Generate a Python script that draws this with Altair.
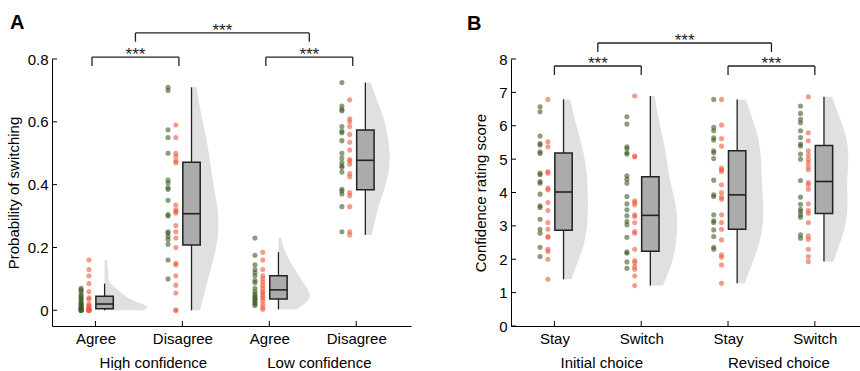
import altair as alt
import pandas as pd

# ---------------- data ----------------
# Panel A: probability of switching
a_categories = ["Agree", "Disagree", "Agree", "Disagree"]
a_groups = ["High confidence", "Low confidence"]
a_high_agree_green = [0.07, 0.065, 0.06, 0.05, 0.045, 0.04, 0.035, 0.03, 0.025, 0.02,
                      0.02, 0.015, 0.01, 0.01, 0.005, 0.005, 0.0, 0.0, 0.0, 0.0]
a_high_agree_red = [0.16, 0.13, 0.11, 0.085, 0.06, 0.04, 0.035, 0.02, 0.015, 0.01,
                    0.005, 0.005, 0.0, 0.0, 0.0, 0.0, 0.0]
a_high_disagree_green = [0.71, 0.70, 0.575, 0.55, 0.50, 0.415, 0.405, 0.39, 0.385, 0.35,
                         0.305, 0.30, 0.25, 0.245, 0.235, 0.225, 0.21, 0.16, 0.10]
a_high_disagree_red = [0.59, 0.55, 0.50, 0.49, 0.475, 0.47, 0.335, 0.32, 0.315, 0.31,
                       0.27, 0.25, 0.23, 0.20, 0.15, 0.145, 0.11, 0.08, 0.055, 0.0, 0.0]
a_low_agree_green = [0.23, 0.175, 0.145, 0.13, 0.12, 0.11, 0.095, 0.088, 0.07, 0.06,
                     0.052, 0.045, 0.04, 0.035, 0.03, 0.025, 0.02, 0.015]
a_low_agree_red = [0.185, 0.16, 0.13, 0.11, 0.10, 0.09, 0.08, 0.07, 0.06, 0.055,
                   0.045, 0.04, 0.03, 0.02, 0.01, 0.003]
a_low_disagree_green = [0.725, 0.65, 0.64, 0.635, 0.585, 0.57, 0.565, 0.54, 0.50, 0.485,
                        0.47, 0.46, 0.455, 0.44, 0.385, 0.38, 0.37, 0.33, 0.25]
a_low_disagree_red = [0.67, 0.61, 0.60, 0.585, 0.56, 0.535, 0.51, 0.48, 0.475, 0.465,
                      0.435, 0.425, 0.375, 0.365, 0.33, 0.25, 0.24]

# Panel B: confidence rating score
b_categories = ["Stay", "Switch", "Stay", "Switch"]
b_groups = ["Initial choice", "Revised choice"]
b_init_stay_green = [6.57, 6.42, 5.69, 5.47, 5.42, 5.22, 5.17, 4.58, 4.53, 4.33,
                     4.28, 3.95, 3.60, 3.55, 3.20, 2.90, 2.78, 2.36, 2.08]
b_init_stay_red = [6.79, 5.52, 5.37, 4.63, 4.58, 4.13, 4.08, 3.70, 3.46, 3.10,
                   2.90, 2.68, 2.66, 2.30, 2.23, 2.00, 1.40]
b_init_switch_green = [6.27, 6.05, 5.37, 5.32, 5.19, 5.15, 4.50, 4.40, 4.28, 3.88,
                       3.66, 3.48, 3.30, 3.13, 3.03, 2.66, 2.22, 2.18, 1.92, 1.73]
b_init_switch_red = [6.89, 5.09, 5.07, 3.75, 3.70, 3.63, 3.33, 3.28, 3.10, 2.83,
                     2.78, 2.30, 1.96, 1.90, 1.78, 1.70, 1.50, 1.21]
b_rev_stay_green = [6.79, 5.95, 5.85, 5.64, 5.57, 5.25, 5.19, 5.02, 4.37, 3.93,
                    3.88, 3.33, 3.15, 3.10, 2.88, 2.68, 2.36, 2.30]
b_rev_stay_red = [6.79, 6.02, 5.62, 5.39, 4.73, 4.68, 4.63, 4.23, 4.00, 3.86,
                  3.80, 3.33, 3.10, 2.90, 2.58, 2.13, 2.06, 1.83, 1.28]
b_rev_switch_green = [6.59, 6.37, 6.19, 6.09, 5.85, 5.65, 5.45, 5.39, 5.15, 5.00,
                      4.36, 3.86, 3.65, 3.50, 3.43, 3.33, 3.26, 2.73, 2.63]
b_rev_switch_red = [6.87, 5.79, 5.55, 5.25, 5.12, 5.00, 4.90, 4.78, 4.68, 4.30,
                    4.23, 4.10, 3.66, 3.46, 3.38, 3.10, 2.70, 2.60, 2.30, 2.08, 1.93]

significance = "***"

# ---------------- style ----------------
FONT = "Liberation Sans"
GREEN = "#3f5a25"
RED = "#ec5a40"
VIOLIN = "#e0e0e0"
BOXFILL = "#ababab"
INK = "#222222"
OFF_G, OFF_R = -0.165, -0.075          # dot columns relative to category
BOX_L, BOX_C, BOX_R = 0.005, 0.105, 0.205


def make_panel(greens, reds, cats, groups, group_pos, xdom, ydom, yticks, ytitle,
               letter, vwidths, brk_off, brk_low, brk_top, drop, width, height,
               title_pad, letter_dx, letter_offset):
    rows = []
    for i, (gl, rl) in enumerate(zip(greens, reds)):
        pos = i + 1
        rows += [dict(g=pos, c="green", v=v, x=pos + OFF_G) for v in gl]
        rows += [dict(g=pos, c="red", v=v, x=pos + OFF_R) for v in rl]
    df = pd.DataFrame(rows)

    xs = alt.Scale(domain=xdom, nice=False, zero=False)
    ys = alt.Scale(domain=ydom, nice=False, zero=False)
    px_x = (xdom[1] - xdom[0]) / width
    px_y = (ydom[1] - ydom[0]) / height

    vals_x = [1, 2, 3, 4] + list(group_pos)
    parts = [f"datum.value == {i + 1} ? '{c}'" for i, c in enumerate(cats)]
    parts += [f"datum.value == {p} ? ['', '{g}']" for p, g in zip(group_pos, groups)]
    lab_expr = " : ".join(parts) + " : ''"
    xaxis = alt.Axis(values=vals_x, labelExpr=lab_expr, ticks=False, tickSize=0, grid=False,
                     title=None, labelFontSize=15, labelFont=FONT, labelColor="black",
                     labelPadding=5, labelLineHeight=24, labelOverlap=False, labelFlush=False,
                     labelBound=False, domainColor="black", domainWidth=1)
    yaxis = alt.Axis(values=yticks, format="~g", ticks=False, tickSize=0, grid=False,
                     title=ytitle, titleFont=FONT, titleFontSize=15, titleFontWeight="normal",
                     titleColor="black", titlePadding=title_pad, labelFontSize=15,
                     labelFont=FONT, labelColor="black", labelPadding=4,
                     domainColor="black", domainWidth=1, labelFlush=False)

    def X(f):
        return alt.X(f, scale=xs, axis=xaxis)

    def Y(f):
        return alt.Y(f, scale=ys, axis=yaxis)

    layers = []
    # half violins
    for i, (gl, rl) in enumerate(zip(greens, reds)):
        pos = i + 1
        vals = gl + rl
        v = (alt.Chart(df)
             .transform_filter(f"datum.g == {pos}")
             .transform_density("v", as_=["v", "dens"], extent=[min(vals), max(vals)], steps=150)
             .transform_joinaggregate(mx="max(dens)")
             .transform_calculate(xb=f"{pos + BOX_C}",
                                  xr=f"{pos + BOX_C} + datum.dens / datum.mx * {vwidths[i]}")
             .mark_area(orient="horizontal", color=VIOLIN)
             .encode(y=Y("v:Q"), x=X("xr:Q"), x2="xb:Q"))
        layers.append(v)

    # box plots (1.5 IQR whiskers)
    bb = (alt.Chart(df)
          .transform_joinaggregate(q1="q1(v)", q3="q3(v)", med="median(v)", groupby=["g"])
          .transform_calculate(iqr="datum.q3 - datum.q1")
          .transform_filter("datum.v >= datum.q1 - 1.5 * datum.iqr && datum.v <= datum.q3 + 1.5 * datum.iqr")
          .transform_aggregate(lo="min(v)", hi="max(v)", bq1="min(q1)", bq3="min(q3)",
                               bmed="min(med)", groupby=["g"])
          .transform_calculate(xc=f"datum.g + {BOX_C}", xl=f"datum.g + {BOX_L}",
                               xr=f"datum.g + {BOX_R}"))
    layers.append(bb.mark_rule(color=INK, strokeWidth=1.3).encode(
        x=X("xc:Q"), y=Y("lo:Q"), y2="hi:Q"))
    layers.append(bb.mark_rect(fill=BOXFILL, stroke=INK, strokeWidth=1.5).encode(
        x=X("xl:Q"), x2="xr:Q", y=Y("bq1:Q"), y2="bq3:Q"))
    layers.append(bb.mark_rule(color=INK, strokeWidth=1.6).encode(
        x=X("xl:Q"), x2="xr:Q", y=Y("bmed:Q")))

    # dots
    layers.append(alt.Chart(df).mark_circle(size=26, opacity=0.6).encode(
        x=X("x:Q"), y=Y("v:Q"),
        color=alt.Color("c:N", scale=alt.Scale(domain=["green", "red"], range=[GREEN, RED]),
                        legend=None)))

    # inward tick marks
    trows = [dict(x1=xdom[0], x2=xdom[0] + 5 * px_x, y1=t, y2=t) for t in yticks]
    trows += [dict(x1=p, x2=p, y1=ydom[0], y2=ydom[0] + 5 * px_y) for p in [1, 2, 3, 4]]
    layers.append(alt.Chart(pd.DataFrame(trows)).mark_rule(color="black", strokeWidth=1).encode(
        x=X("x1:Q"), x2="x2:Q", y=Y("y1:Q"), y2="y2:Q"))

    # significance brackets
    brackets = [(1 + brk_off, 2 + brk_off, brk_low), (3 + brk_off, 4 + brk_off, brk_low),
                (1.5 + brk_off, 3.5 + brk_off, brk_top)]
    seg, txt = [], []
    for a, b, lvl in brackets:
        seg.append(dict(x1=a, x2=b, y1=lvl, y2=lvl))
        seg.append(dict(x1=a, x2=a, y1=lvl, y2=lvl - drop))
        seg.append(dict(x1=b, x2=b, y1=lvl, y2=lvl - drop))
        txt.append(dict(x=(a + b) / 2, y=lvl, t=significance))
    layers.append(alt.Chart(pd.DataFrame(seg)).mark_rule(color=INK, strokeWidth=1.3).encode(
        x=X("x1:Q"), x2="x2:Q", y=Y("y1:Q"), y2="y2:Q"))
    layers.append(alt.Chart(pd.DataFrame(txt)).mark_text(
        font=FONT, fontSize=17, color=INK, align="center", baseline="alphabetic", dy=3).encode(
        x=X("x:Q"), y=Y("y:Q"), text="t:N"))

    return alt.layer(*layers).properties(
        width=width, height=height,
        title=alt.TitleParams(letter, anchor="start", frame="group", dx=letter_dx,
                              offset=letter_offset, fontSize=20, fontWeight="bold",
                              font=FONT, color="black", baseline="alphabetic"))


panel_a = make_panel(
    [a_high_agree_green, a_high_disagree_green, a_low_agree_green, a_low_disagree_green],
    [a_high_agree_red, a_high_disagree_red, a_low_agree_red, a_low_disagree_red],
    a_categories, a_groups, [1.66, 3.57], [0.5, 4.63], [-0.05, 0.8],
    [0, 0.2, 0.4, 0.6, 0.8], "Probability of switching", "A",
    [0.49, 0.31, 0.36, 0.28], -0.04, 0.806, 0.883, 0.028, 359, 267, 6, -42, -27)

panel_b = make_panel(
    [b_init_stay_green, b_init_switch_green, b_rev_stay_green, b_rev_switch_green],
    [b_init_stay_red, b_init_switch_red, b_rev_stay_red, b_rev_switch_red],
    b_categories, b_groups, [1.54, 3.58], [0.5, 4.52], [0, 8],
    [0, 1, 2, 3, 4, 5, 6, 7, 8], "Confidence rating score", "B",
    [0.28, 0.31, 0.30, 0.28], 0.0, 7.79, 8.48, 0.27, 349, 267, 10, -44, -18.5)

chart = (alt.hconcat(panel_a, panel_b, spacing=56)
         .properties(padding={"left": 6, "top": 12, "right": 0, "bottom": 0})
         .configure_view(stroke=None))

chart.save("out.html", embed_options={"renderer": "svg", "actions": False})
